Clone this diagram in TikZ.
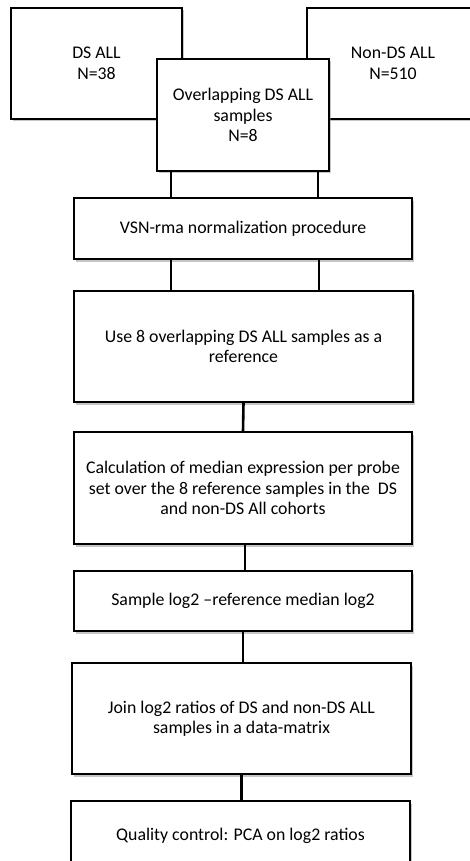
\documentclass[tikz,border=0pt]{standalone}
\usepackage{fontspec}
\setmainfont{Carlito}
\usetikzlibrary{shadows}

\begin{document}
\begin{tikzpicture}[x=1pt,y=-1pt,
    flowbox/.style={shape=rectangle,draw,line width=1.1pt,fill=white,align=center,
      font=\fontsize{17.8}{20.5}\selectfont,
      drop shadow={shadow xshift=1.5pt,shadow yshift=-2.5pt,opacity=0.45}},
    link/.style={line width=2.6pt}]
    \useasboundingbox (0,0) rectangle (469,861);
    % cohorts
    \node[flowbox,minimum width=171pt,minimum height=111pt] (dsall)   at (96.5,63.5) {DS ALL\\N=38};
    \node[flowbox,minimum width=172pt,minimum height=111pt] (nondsall) at (393,63.5) {Non-DS ALL\\N=510};
    \node[flowbox,minimum width=172pt,minimum height=112pt] (overlap) at (243,115) {Overlapping DS ALL\\samples\\N=8};
    % processing steps
    \node[flowbox,minimum width=338pt,minimum height=61pt]  (vsn)    at (243,228.5) {VSN-rma normalization procedure};
    \node[flowbox,minimum width=339pt,minimum height=111pt] (useref) at (243.5,346.5) {Use 8 overlapping DS ALL samples as a\\reference};
    \node[flowbox,minimum width=338pt,minimum height=112pt] (median) at (243,488) {Calculation of median expression per probe\\set over the 8 reference samples in the \ DS\\and non-DS All cohorts};
    \node[flowbox,minimum width=338pt,minimum height=60pt]  (ratio)  at (243,601) {Sample log2 –reference median log2};
    \node[flowbox,minimum width=339pt,minimum height=111pt] (join)   at (241.5,718.5) {Join log2 ratios of DS and non-DS ALL\\samples in a data-matrix};
    \node[flowbox,minimum width=339pt,minimum height=70pt]  (qc)     at (240.5,836) {Quality control: PCA on log2 ratios};
    % connectors
    \draw[link] ([xshift=-72pt]overlap.south) -- ([xshift=-72pt]vsn.north);
    \draw[link] ([xshift=75pt]overlap.south) -- ([xshift=75pt]vsn.north);
    \draw[link] ([xshift=-72pt]vsn.south) -- ([xshift=-72.5pt]useref.north);
    \draw[link] ([xshift=76pt]vsn.south) -- ([xshift=75.5pt]useref.north);
    \draw[link] (useref.south) -- (median.north);
    \draw[link] ([xshift=2pt]median.south) -- ([xshift=2pt]ratio.north);
    \draw[link] (ratio.south) -- ([xshift=1.5pt]join.north);
    \draw[link] (join.south) -- ([xshift=1pt]qc.north);
\end{tikzpicture}
\end{document}
